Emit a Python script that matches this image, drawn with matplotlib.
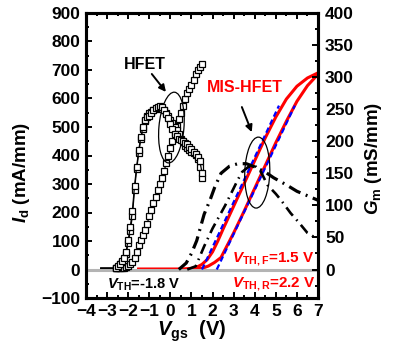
import matplotlib
matplotlib.use("Agg")
import matplotlib.pyplot as plt
from matplotlib.patches import Ellipse
from matplotlib import transforms
from matplotlib.ticker import MultipleLocator

# ── HFET (open squares): Id on left axis, Gm on right axis ──────────────────
HFET_VGS = [-3.3, -3.2, -3.1, -3.0, -2.9, -2.8, -2.7,
            -2.6, -2.5, -2.4, -2.3, -2.2, -2.1, -2.0, -1.9, -1.8, -1.7,
            -1.6, -1.5, -1.4, -1.3, -1.2, -1.1, -1.0, -0.9, -0.8, -0.7,
            -0.6, -0.5, -0.4, -0.3, -0.2, -0.1, 0.0, 0.1, 0.2, 0.3,
            0.4, 0.5, 0.6, 0.7, 0.8, 0.9, 1.0, 1.1, 1.2, 1.3, 1.4, 1.5]
HFET_ID = [5, 5, 5, 5, 5, 5, 5,
           4, 4, 5, 5, 6, 8, 12, 18, 28, 42,
           62, 85, 104, 120, 138, 160, 188, 210, 232, 254,
           278, 300, 322, 345, 372, 398, 425, 450, 478, 505,
           528, 550, 575, 598, 618, 633, 648, 665, 685, 700, 712, 722]
HFET_GM_F = [2, 2, 2, 2, 2, 2, 2,
             2, 4, 8, 11, 15, 24, 42, 60, 84, 124,
             156, 182, 204, 219, 232, 239, 244, 246, 248, 250,
             252, 252, 251, 248, 244, 239, 233, 228, 222, 217,
             211, 204, 199, 193, 189, 186, 183, 181, 178, 173, 160, 143]
HFET_GM_R = [2, 2, 2, 2, 2, 2, 2,
             3, 5, 9, 13, 18, 28, 46, 66, 92, 130,
             160, 186, 207, 222, 233, 238, 240, 244, 249, 252,
             254, 255, 253, 249, 242, 236, 227, 219, 212, 208,
             204, 202, 200, 198, 195, 191, 188, 184, 180, 176, 169, 151]

# ── MIS-HFET Id (red), forward / reverse ────────────────────────────────────
MIS_VGS_F = [-1.5, 0.0, 0.5, 1.0, 1.25, 1.5, 1.75, 2.0, 2.25, 2.5, 3.0,
             3.5, 4.0, 4.5, 5.0, 5.5, 6.0, 6.5, 7.0]
MIS_ID_F = [1, 1, 1, 4, 8, 18, 35, 62, 100, 142, 222,
            302, 382, 462, 535, 598, 643, 672, 690]
MIS_VGS_R = [-1.5, 0.0, 1.0, 1.5, 1.8, 2.1, 2.4, 2.7, 3.0, 3.5, 4.0,
             4.5, 5.0, 5.5, 6.0, 6.5, 7.0]
MIS_ID_R = [1, 1, 1, 4, 12, 25, 42, 85, 128, 205, 285,
            365, 445, 520, 590, 645, 685]

# linear extrapolation lines (blue dashed)
FIT_F_V = [1.5, 5.15]
FIT_F_ID = [0, 575]
FIT_R_V = [2.2, 5.9]
FIT_R_ID = [0, 575]

# ── MIS-HFET Gm (black dash-dot), mS/mm ─────────────────────────────────────
GM_F_V = [0.4, 0.75, 1.0, 1.25, 1.6, 1.9, 2.1, 2.4, 2.8, 3.2, 3.6, 4.0,
          4.5, 4.9, 5.5, 6.0, 6.5, 7.0]
GM_F = [0, 10, 25, 45, 86, 110, 128, 150, 161, 165, 165, 160,
        152, 143, 132, 122, 115, 108]
GM_R_V = [0.8, 1.2, 1.6, 2.0, 2.3, 2.6, 2.9, 3.2, 3.4, 3.7, 4.0, 4.3,
          4.6, 5.0, 5.25, 5.7, 6.1, 6.5, 7.0]
GM_R = [0, 5, 36, 64, 82, 100, 120, 140, 152, 160, 162, 152,
        132, 118, 108, 88, 73, 57, 47]

plt.rcParams.update({
    "font.family": "Liberation Sans",
    "font.weight": "bold",
    "mathtext.fontset": "custom",
    "mathtext.rm": "Liberation Sans:bold",
    "mathtext.bf": "Liberation Sans:bold",
    "mathtext.it": "Liberation Sans:italic:bold",
})

fig = plt.figure(figsize=(3.93, 3.49), dpi=100)
ax = fig.add_axes([86 / 393, 1 - 298 / 349, 232 / 393, 285 / 349])
ax2 = ax.twinx()

ax.axhline(0, color="#b4b4b4", lw=2.2, zorder=3)
ax.plot(MIS_VGS_F, MIS_ID_F, color="red", lw=2.2, zorder=2)
ax.plot(MIS_VGS_R, MIS_ID_R, color="red", lw=2.2, zorder=2)
ax.plot(FIT_F_V, FIT_F_ID, color="blue", lw=1.6, ls=(0, (2.5, 1.5)), zorder=4)
ax.plot(FIT_R_V, FIT_R_ID, color="blue", lw=1.6, ls=(0, (2.5, 1.5)), zorder=4)
ax.plot(HFET_VGS, HFET_ID, color="black", lw=0.9, marker="s", ms=4.8,
        mfc="white", mec="black", mew=0.9, markevery=slice(7, None), zorder=5)

ax2.plot(HFET_VGS, HFET_GM_F, color="black", lw=0.9, marker="s", ms=4.8,
         mfc="white", mec="black", mew=0.9, markevery=slice(7, None))
ax2.plot(HFET_VGS, HFET_GM_R, color="black", lw=0.9, marker="s", ms=4.8,
         mfc="white", mec="black", mew=0.9, markevery=slice(7, None))
ax2.plot(GM_F_V, GM_F, color="black", lw=2.3, dashes=(4, 1.8, 0.6, 1.8))
ax2.plot(GM_R_V, GM_R, color="black", lw=1.9, dashes=(4, 2, 0.6, 2))

ax.set_xlim(-4, 7)
ax.set_ylim(-100, 900)
ax2.set_ylim(-400 / 9, 400)
ax.set_xticks(range(-4, 8))
ax.set_yticks(range(-100, 901, 100))
ax2.set_yticks(range(0, 401, 50))
ax.xaxis.set_minor_locator(MultipleLocator(0.5))
ax.yaxis.set_minor_locator(MultipleLocator(50))
ax2.yaxis.set_minor_locator(MultipleLocator(25))

ax.tick_params(which="both", direction="in", top=True, right=False,
               width=1.4, labelsize=12.5, pad=4)
ax.tick_params(which="major", length=4)
ax.tick_params(which="minor", length=2.5)
ax2.tick_params(which="both", direction="in", width=1.4, labelsize=12.5, pad=5)
ax2.tick_params(which="major", length=4)
ax2.tick_params(which="minor", length=2.5)
for a in (ax, ax2):
    for s in a.spines.values():
        s.set_linewidth(2.2)

# ellipses drawn in inches, centred on data points
def ring(x, y, angle):
    tr = fig.dpi_scale_trans + transforms.ScaledTranslation(x, y, ax.transData)
    ax.add_patch(Ellipse((0, 0), 0.25, 0.71, angle=angle, fill=False,
                         ec="black", lw=0.9, transform=tr, zorder=6))

ring(0.05, 498, -5)
ring(4.12, 340, -2)

arrow = dict(arrowstyle="-|>", color="black", lw=1.4, mutation_scale=10,
             shrinkA=0, shrinkB=0)
ax.annotate("", xy=(-0.21, 623), xytext=(-0.88, 686), arrowprops=arrow, zorder=6)
ax.annotate("", xy=(3.86, 482), xytext=(3.39, 570), arrowprops=arrow, zorder=6)

ax.text(-1.21, 721, "HFET", ha="center", va="center", fontsize=11.5)
ax.text(3.53, 637, "MIS-HFET", ha="center", va="center", fontsize=11.5,
        color="red")
ax.text(-3.0, -66, r"$V_{\rm TH}$=-1.8 V", ha="left", va="baseline",
        fontsize=10.5)
ax.text(2.91, 26, r"$V_{\rm TH,F}$=1.5 V", ha="left", va="baseline",
        fontsize=11, color="red")
ax.text(2.91, -62, r"$V_{\rm TH,R}$=2.2 V", ha="left", va="baseline",
        fontsize=11, color="red")

fig.text(22 / 393, 1 - 172 / 349, r"$I_{\rm d}$ (mA/mm)", rotation=90,
         ha="center", va="center", fontsize=13.5)
fig.text(374 / 393, 1 - 158 / 349, r"$G_{\rm m}$ (mS/mm)", rotation=90,
         ha="center", va="center", fontsize=13.5)
fig.text(192 / 393, 1 - 331 / 349, r"$V_{\rm gs}$  (V)", ha="center",
         va="center", fontsize=14.5)

fig.savefig("out.png", dpi=100)
